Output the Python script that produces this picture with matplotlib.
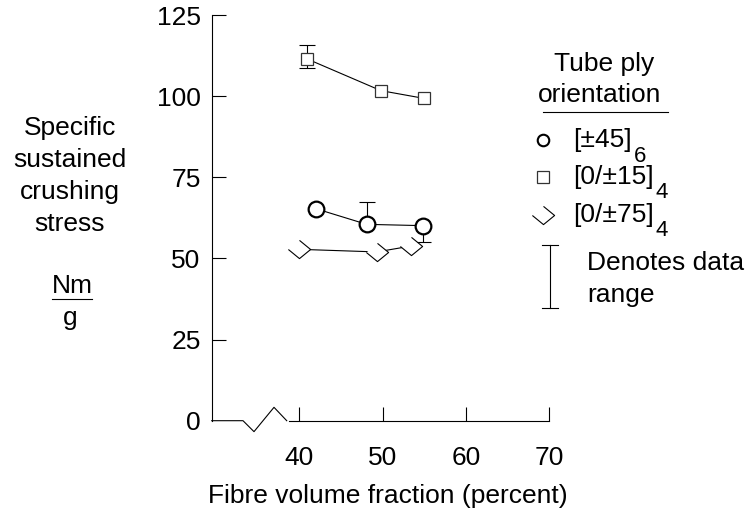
import matplotlib
matplotlib.use("Agg")
import matplotlib.pyplot as plt
from matplotlib.path import Path
from matplotlib.lines import Line2D

plt.rcParams['font.family'] = ['Liberation Sans', 'DejaVu Sans']

# data
circ_x = [42.0, 48.1, 54.8]
circ_y = [65.3, 60.5, 60.1]
sq_x = [40.9, 49.8, 55.0]
sq_y = [111.5, 101.7, 99.3]
dia_x = [40.0, 49.3, 53.4]
dia_y = [52.8, 52.0, 53.8]

# data ranges (error bars)
err_x = [40.9, 48.1, 54.8]
err_y = [111.5, 60.5, 60.1]
err_lo = [108.7, 60.5, 55.0]
err_hi = [115.7, 67.4, 60.1]

x_ticks = [40, 50, 60, 70]
y_ticks = [0, 25, 50, 75, 100, 125]

W, H = 747, 515
FS = 19


def px(x, y):
    return x / W, 1 - y / H


# open diamond: missing the top-left edge
open_diamond = Path([(-1, 0), (0, -0.82), (1, 0), (0, 0.82)],
                    [Path.MOVETO, Path.LINETO, Path.LINETO, Path.LINETO])

fig = plt.figure(figsize=(W / 100, H / 100), dpi=100)
ax = fig.add_axes([211.7 / W, 1 - 420.7 / H, (549 - 211.7) / W, (420.7 - 15) / H])

ax.set_xlim(29.47, 70)
ax.set_ylim(0, 125)

lo = [y - l for y, l in zip(err_y, err_lo)]
hi = [h - y for y, h in zip(err_y, err_hi)]
ax.errorbar(err_x, err_y, yerr=[lo, hi], fmt='none', ecolor='black',
            elinewidth=0.8, capsize=5.5, capthick=0.8, zorder=1)

ax.plot(circ_x, circ_y, color='black', lw=0.8, marker='o', ms=11.3,
        mfc='white', mec='black', mew=1.6, zorder=3)
ax.plot(sq_x, sq_y, color='black', lw=0.8, marker='s', ms=9.0,
        mfc='white', mec='#333333', mew=0.9, zorder=3)
ax.plot(dia_x, dia_y, color='black', lw=0.8, marker=open_diamond, ms=16,
        mfc='white', mec='black', mew=0.8, zorder=3)

# axes styling
for s in ['top', 'right', 'bottom']:
    ax.spines[s].set_visible(False)
ax.spines['left'].set_linewidth(0.8)
ax.set_xticks(x_ticks)
ax.set_yticks(y_ticks)
ax.tick_params(axis='x', direction='in', length=10, width=0.8, pad=18, labelsize=FS)
ax.tick_params(axis='y', direction='in', length=10, width=0.8, pad=8, labelsize=FS)
ax.yaxis.get_major_ticks()[0].tick1line.set_visible(False)

# bottom axis with a break near the origin
bx = [0, 0.0928, 0.1254, 0.1847, 0.2224]
by = [0, 0, -0.027, 0.033, 0]
ax.plot(bx, by, color='black', lw=0.8, transform=ax.transAxes, clip_on=False)
ax.plot([0.230, 1], [0, 0], color='black', lw=0.8, transform=ax.transAxes, clip_on=False)

# x label
fig.text(*px(388, 496), "Fibre volume fraction (percent)", fontsize=FS,
         ha='center', va='center')

# y label block
for i, line in enumerate(["Specific", "sustained", "crushing", "stress"]):
    fig.text(*px(70, 128 + i * 32), line, fontsize=FS, ha='center', va='center')
fig.text(*px(72, 286), "Nm", fontsize=FS, ha='center', va='center')
fig.add_artist(Line2D([52 / W, 92 / W], [1 - 299 / H, 1 - 299 / H], color='black', lw=0.8))
fig.text(*px(70, 318), "g", fontsize=FS, ha='center', va='center')

# legend block
fig.text(*px(604, 64), "Tube ply", fontsize=FS, ha='center', va='center')
fig.text(*px(600, 95), "orientation", fontsize=FS, ha='center', va='center')
fig.add_artist(Line2D([543 / W, 668 / W], [1 - 112 / H, 1 - 112 / H], color='black', lw=0.8))

leg_labels = ["[±45]", "[0/±15]", "[0/±75]"]
leg_subs = ["6", "4", "4"]
leg_y = [140, 177, 215]
leg_markers = [('o', 8.3, 1.5, 'black'), ('s', 8.5, 0.9, '#333333'), (open_diamond, 16, 0.8, 'black')]
renderer = fig.canvas.get_renderer()
for lab, sub, yy, (mk, ms, mw, mc) in zip(leg_labels, leg_subs, leg_y, leg_markers):
    fig.add_artist(Line2D([543 / W], [1 - yy / H], marker=mk, ms=ms, mew=mw,
                          mfc='white', mec=mc, ls='none'))
    t = fig.text(*px(573, yy), lab, fontsize=FS, ha='left', va='center')
    right = t.get_window_extent(renderer).x1
    fig.text((right + 2) / W, 1 - (yy + 16) / H, sub, fontsize=16, ha='left', va='center')

# data range key
fig.add_artist(Line2D([550 / W, 550 / W], [1 - 245 / H, 1 - 308 / H], color='black', lw=0.8))
fig.add_artist(Line2D([542 / W, 558 / W], [1 - 245 / H, 1 - 245 / H], color='black', lw=0.8))
fig.add_artist(Line2D([542 / W, 558 / W], [1 - 308 / H, 1 - 308 / H], color='black', lw=0.8))
fig.text(*px(587, 263), "Denotes data", fontsize=FS, ha='left', va='center')
fig.text(*px(587, 295), "range", fontsize=FS, ha='left', va='center')

fig.savefig("out.png", dpi=100)
